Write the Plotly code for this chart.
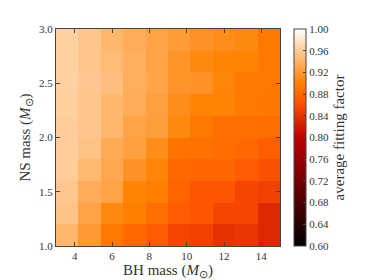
import plotly.graph_objects as go

bh_mass = [3.6, 4.8, 6.0, 7.2, 8.4, 9.6, 10.8, 12.0, 13.2, 14.4]
ns_mass = [1.1, 1.3, 1.5, 1.7, 1.9, 2.1, 2.3, 2.5, 2.7, 2.9]

ff_ns_1_1 = [0.943, 0.920, 0.894, 0.882, 0.871, 0.855, 0.851, 0.839, 0.843, 0.831]
ff_ns_1_3 = [0.953, 0.927, 0.906, 0.900, 0.886, 0.871, 0.867, 0.855, 0.855, 0.831]
ff_ns_1_5 = [0.956, 0.935, 0.927, 0.902, 0.898, 0.878, 0.867, 0.867, 0.855, 0.851]
ff_ns_1_7 = [0.959, 0.944, 0.931, 0.914, 0.903, 0.882, 0.880, 0.880, 0.871, 0.863]
ff_ns_1_9 = [0.961, 0.952, 0.933, 0.925, 0.910, 0.890, 0.888, 0.885, 0.882, 0.874]
ff_ns_2_1 = [0.961, 0.954, 0.943, 0.927, 0.924, 0.906, 0.894, 0.886, 0.886, 0.885]
ff_ns_2_3 = [0.962, 0.954, 0.943, 0.935, 0.925, 0.910, 0.902, 0.902, 0.896, 0.892]
ff_ns_2_5 = [0.963, 0.956, 0.949, 0.936, 0.928, 0.916, 0.914, 0.904, 0.896, 0.894]
ff_ns_2_7 = [0.963, 0.955, 0.946, 0.936, 0.927, 0.916, 0.906, 0.902, 0.902, 0.894]
ff_ns_2_9 = [0.963, 0.955, 0.943, 0.935, 0.927, 0.922, 0.914, 0.910, 0.906, 0.894]

z = [ff_ns_1_1, ff_ns_1_3, ff_ns_1_5, ff_ns_1_7, ff_ns_1_9,
     ff_ns_2_1, ff_ns_2_3, ff_ns_2_5, ff_ns_2_7, ff_ns_2_9]

cbar_ticks = [0.60, 0.64, 0.68, 0.72, 0.76, 0.80, 0.84, 0.88, 0.92, 0.96, 1.00]
x_ticks = [4, 6, 8, 10, 12, 14]
y_ticks = [1.0, 1.5, 2.0, 2.5, 3.0]

# matplotlib gist_heat (piecewise linear)
gist_heat = [
    [0.0, "rgb(0,0,0)"],
    [0.5, "rgb(191,0,0)"],
    [2/3, "rgb(255,85,0)"],
    [0.75, "rgb(255,128,0)"],
    [1.0, "rgb(255,255,255)"],
]

font_family = "Liberation Serif"
axcol = "#444"

fig = go.Figure(go.Heatmap(
    x=bh_mass, y=ns_mass, z=z,
    zmin=0.6, zmax=1.0,
    colorscale=gist_heat,
    colorbar=dict(
        x=1.0625, xanchor="left", xref="paper",
        y=0.5, yanchor="middle", len=1.0, lenmode="fraction",
        thickness=12, thicknessmode="pixels",
        outlinecolor=axcol, outlinewidth=1,
        tickvals=cbar_ticks, tickformat=".2f",
        ticks="inside", ticklen=3, tickcolor=axcol,
        tickfont=dict(family=font_family, size=11, color="#333"),
        title=dict(text="average fitting factor", side="right",
                   font=dict(family=font_family, size=15, color="#333")),
        xpad=0, ypad=0,
    ),
))

axis_common = dict(
    showgrid=False, zeroline=False, automargin=False,
    showline=True, linecolor=axcol, linewidth=1, mirror="ticks",
    ticks="inside", ticklen=4, tickcolor=axcol,
    tickfont=dict(family=font_family, size=11, color="#333"),
)

fig.update_xaxes(range=[3, 15], tickvals=x_ticks,
                 title=dict(text="BH mass (<i>M</i><sub>⊙</sub>)", standoff=0,
                            font=dict(family=font_family, size=15, color="#333")),
                 **axis_common)
fig.update_yaxes(range=[1, 3], tickvals=y_ticks, tickformat=".1f",
                 title=dict(text="NS mass (<i>M</i><sub>⊙</sub>)", standoff=4,
                            font=dict(family=font_family, size=15, color="#333")),
                 **axis_common)

# the page body adds an 8px offset, so the figure is 366x272 with margins shifted
fig.update_layout(
    width=366, height=272,
    margin=dict(l=48, r=94, t=21, b=34, autoexpand=False),
    paper_bgcolor="white", plot_bgcolor="white",
)

fig.write_html("out.html")
